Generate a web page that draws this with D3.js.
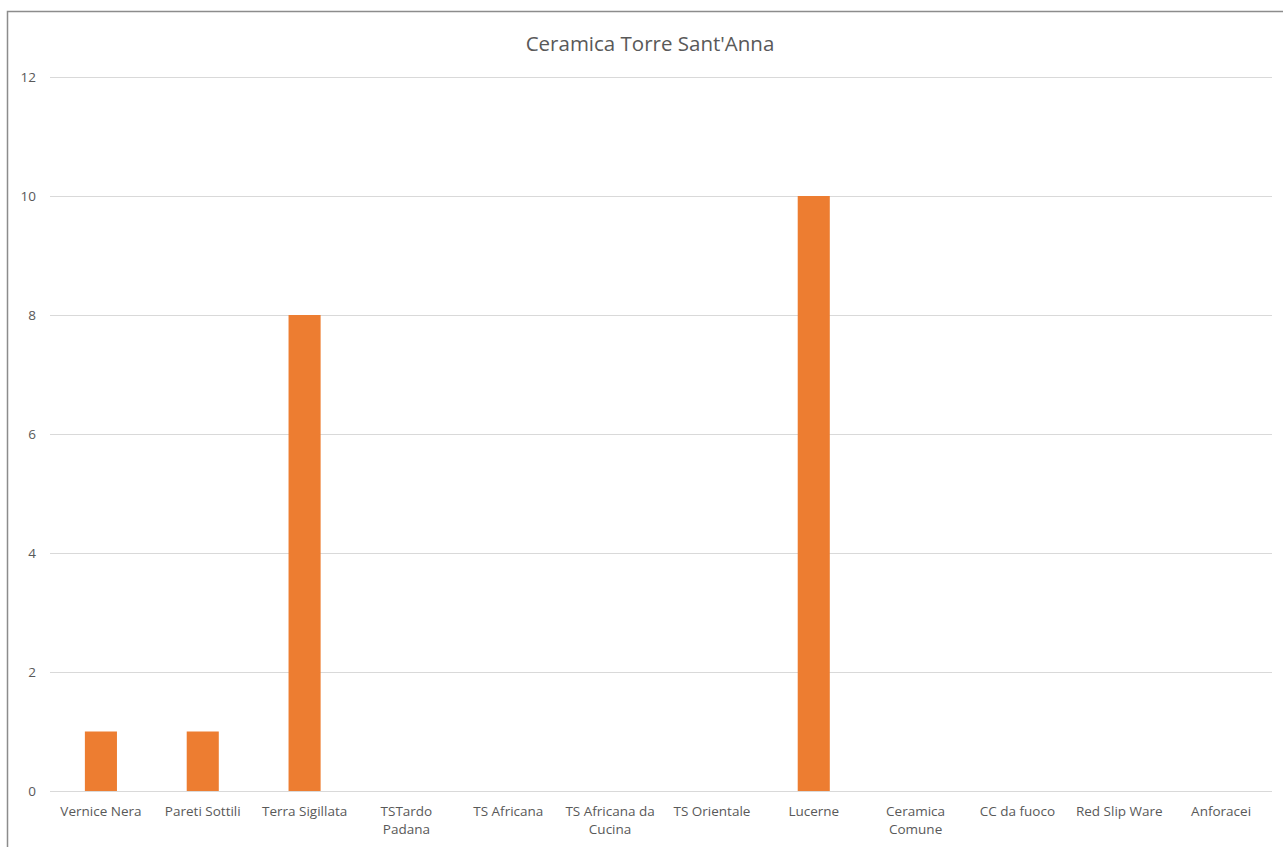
<!DOCTYPE html>
<html>
<head>
<meta charset="utf-8">
<script src="https://cdn.jsdelivr.net/npm/d3@7/dist/d3.min.js"></script>
<style>
  html, body { margin: 0; padding: 0; background: #fff; }
  svg { display: block; font-family: "Open Sans", "Noto Sans", sans-serif; }
</style>
</head>
<body>
<svg id="chart" width="1283" height="847"></svg>
<script>
// Ceramic finds by class (line breaks mark wrapped axis labels)
const categories = [
  "Vernice Nera", "Pareti Sottili", "Terra Sigillata", "TSTardo\nPadana",
  "TS Africana", "TS Africana da\nCucina", "TS Orientale", "Lucerne",
  "Ceramica\nComune", "CC da fuoco", "Red Slip Ware", "Anforacei"
];
const counts = [1, 1, 8, 0, 0, 0, 0, 10, 0, 0, 0, 0];
const yTicks = [0, 2, 4, 6, 8, 10, 12];
const title = "Ceramica Torre Sant'Anna";

const svg = d3.select("#chart");
const W = 1283, H = 847;
const margin = { left: 50, right: 11, top: 77, bottom: 56 };

// frame of the chart area
svg.append("rect")
  .attr("x", 7.5).attr("y", 11.5)
  .attr("width", W + 10).attr("height", H + 10)
  .attr("fill", "#fff").attr("stroke", "#8c8c8c").attr("stroke-width", 1.5);

const x = d3.scaleBand()
  .domain(categories)
  .range([margin.left, W - margin.right])
  .paddingInner(0.685).paddingOuter(0.3425);

const y = d3.scaleLinear()
  .domain([0, 12])
  .range([H - margin.bottom, margin.top]);

// horizontal gridlines
svg.append("g")
  .selectAll("line")
  .data(yTicks)
  .join("line")
  .attr("x1", margin.left).attr("x2", W - margin.right)
  .attr("y1", d => Math.round(y(d)) + 0.5).attr("y2", d => Math.round(y(d)) + 0.5)
  .attr("stroke", "#d9d9d9").attr("stroke-width", 1);

// y axis labels
const yAxis = d3.axisLeft(y).tickValues(yTicks).tickSize(0).tickPadding(0);
const yg = svg.append("g").attr("transform", `translate(${margin.left - 14},0)`).call(yAxis);
yg.select(".domain").remove();
yg.selectAll("text")
  .attr("fill", "#595959").attr("font-size", 13.5)
  .attr("font-family", "\"Open Sans\", sans-serif");

// bars
svg.append("g")
  .selectAll("rect")
  .data(categories.map((c, i) => ({ c, v: counts[i] })))
  .join("rect")
  .attr("x", d => x(d.c))
  .attr("width", x.bandwidth())
  .attr("y", d => y(d.v))
  .attr("height", d => y(0) - y(d.v))
  .attr("fill", "#ED7D31");

// category labels
const xAxis = d3.axisBottom(x).tickSize(0).tickPadding(0);
const xg = svg.append("g").attr("transform", `translate(0,${y(0)})`).call(xAxis);
xg.select(".domain").remove();
xg.selectAll("text").each(function(d) {
  const t = d3.select(this);
  t.text(null)
    .attr("fill", "#595959").attr("font-size", 13.5)
    .attr("font-family", "\"Open Sans\", sans-serif")
    .attr("dy", null).attr("y", 0);
  d.split("\n").forEach((line, i) => {
    t.append("tspan").attr("x", 0).attr("y", 25 + i * 18).text(line);
  });
});

// title
svg.append("text")
  .attr("x", 650).attr("y", 51)
  .attr("text-anchor", "middle")
  .attr("fill", "#595959")
  .attr("font-size", 20.5)
  .text(title);
</script>
</body>
</html>
